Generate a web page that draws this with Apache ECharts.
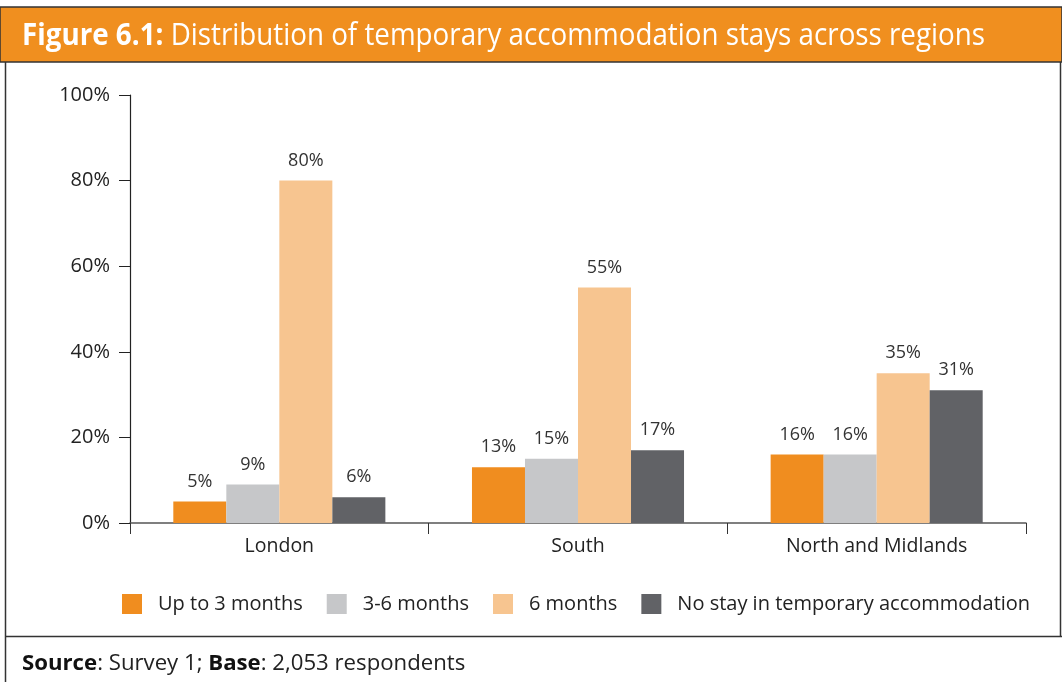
<!DOCTYPE html>
<html>
<head>
<meta charset="utf-8">
<script src="https://cdn.jsdelivr.net/npm/echarts@6/dist/echarts.min.js"></script>
<style>
  html, body { margin: 0; padding: 0; background: #fff; }
  #chart { width: 1062px; height: 682px; }
</style>
</head>
<body>
<div id="chart"></div>
<script>
const regions = ['London', 'South', 'North and Midlands'];
const seriesNames = ['Up to 3 months', '3-6 months', '6 months', 'No stay in temporary accommodation'];
const upTo3 = [5, 13, 16];
const from3to6 = [9, 15, 16];
const sixMonths = [80, 55, 35];
const noStay = [6, 17, 31];
const yTicks = [0, 20, 40, 60, 80, 100];

const colors = ['#F08D1F', '#C6C7C9', '#F7C590', '#616266'];
const font = "'Open Sans', 'Noto Sans', sans-serif";

const chart = echarts.init(document.getElementById('chart'));

// title is set in a condensed face in the original; squeeze Open Sans to the same width
const titleBold = 'Figure 6.1:';
const titleRest = ' Distribution of temporary accommodation stays across regions';
const ctx = document.createElement('canvas').getContext('2d');
ctx.font = "bold 31px 'Open Sans'";
let tw = ctx.measureText(titleBold).width;
ctx.font = "31px 'Open Sans'";
tw += ctx.measureText(titleRest).width;
const titleScale = 963 / tw;

const values = [upTo3, from3to6, sixMonths, noStay];
const series = values.map((data, i) => ({
  name: seriesNames[i],
  type: 'bar',
  data: data,
  barGap: '0%',
  barCategoryGap: '29%',
  itemStyle: { color: colors[i] },
  label: {
    show: true,
    position: 'top',
    distance: 11,
    formatter: '{c}%',
    color: '#333',
    fontSize: 18,
    fontFamily: font
  }
}));

const option = {
  animation: false,
  backgroundColor: '#fff',
  graphic: [
    { type: 'rect', z: -1, shape: { x: 0, y: 7, width: 1062, height: 55 },
      style: { fill: '#F08F1F', stroke: '#333', lineWidth: 1.5 } },
    { type: 'text', x: 22, y: 36, scaleX: titleScale, z: 5,
      style: { text: '{b|' + titleBold + '}{n|' + titleRest + '}', verticalAlign: 'middle',
        rich: {
          b: { fontFamily: font, fontWeight: 'bold', fontSize: 31, fill: '#fff' },
          n: { fontFamily: font, fontWeight: 'normal', fontSize: 31, fill: '#fff' }
        } } },
    { type: 'line', shape: { x1: 5.5, y1: 62, x2: 5.5, y2: 682 }, style: { stroke: '#333', lineWidth: 1.5 } },
    { type: 'line', shape: { x1: 1060.5, y1: 62, x2: 1060.5, y2: 636 }, style: { stroke: '#333', lineWidth: 1.5 } },
    { type: 'line', shape: { x1: 5, y1: 636.5, x2: 1062, y2: 636.5 }, style: { stroke: '#333', lineWidth: 1.5 } },
    { type: 'text', x: 22, y: 664,
      style: { text: '{b|Source}{r|: Survey 1; }{b|Base}{r|: 2,053 respondents}', verticalAlign: 'middle',
        rich: {
          b: { fontFamily: font, fontSize: 22.2, fontWeight: 'bold', fill: '#111' },
          r: { fontFamily: font, fontSize: 22.2, fontWeight: 'normal', fill: '#222' }
        } } }
  ],
  legend: {
    data: seriesNames,
    left: 122,
    top: 594,
    padding: 0,
    itemWidth: 20,
    itemHeight: 20,
    itemGap: 24,
    icon: 'rect',
    textStyle: { fontFamily: font, fontSize: 20, color: '#222', padding: [0, 0, 0, 11] }
  },
  grid: { left: 130, right: 36, top: 95, bottom: 159 },
  xAxis: {
    type: 'category',
    data: regions,
    axisLine: { lineStyle: { color: '#555', width: 1.5 } },
    axisTick: { show: true, length: 11, lineStyle: { color: '#333' } },
    axisLabel: { fontFamily: font, fontSize: 19.5, color: '#222', margin: 13 }
  },
  yAxis: {
    type: 'value',
    min: yTicks[0],
    max: yTicks[yTicks.length - 1],
    interval: 20,
    axisLine: { show: true, lineStyle: { color: '#222', width: 1.2 } },
    axisTick: { show: true, length: 11, lineStyle: { color: '#222' } },
    splitLine: { show: false },
    axisLabel: { formatter: '{value}%', fontFamily: font, fontSize: 20, color: '#222', margin: 20 }
  },
  series: series
};

chart.setOption(option);
</script>
</body>
</html>
